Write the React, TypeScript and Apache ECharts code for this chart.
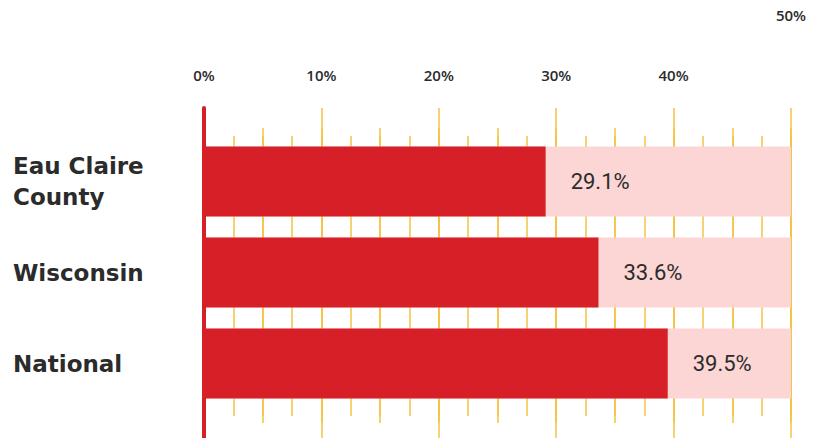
import React, { useEffect, useRef } from "react";
import * as echarts from "echarts";

const categories = ["Eau Claire\nCounty", "Wisconsin", "National"];
const values = [29.1, 33.6, 39.5];
const axisMax = 50;

const RED = "#d61f27";
const PINK = "#fbd6d4";
const GOLD = "#f5c244";
const TEXT = "#2b2b2b";

export default function App() {
  const ref = useRef<HTMLDivElement>(null);
  useEffect(() => {
    const chart = echarts.init(ref.current!, null, { renderer: "svg" });
    const hiddenY = (gi: number, extra: any = {}) => ({
      type: "value",
      gridIndex: gi,
      show: true,
      axisLabel: { show: false },
      axisTick: { show: false },
      splitLine: { show: false },
      axisLine: { show: false },
      ...extra,
    });
    const lineX = (gi: number, interval: number) => ({
      type: "value",
      gridIndex: gi,
      min: 0,
      max: axisMax,
      interval,
      axisLabel: { show: false },
      axisTick: { show: false },
      axisLine: { show: false },
      splitLine: { show: true, lineStyle: { color: GOLD, width: 1.5 } },
    });
    chart.setOption({
      animation: false,
      grid: [
        { left: 204, right: 33, top: 136, bottom: 29 },
        { left: 204, right: 33, top: 108, bottom: 0 },
        { left: 204, right: 33, top: 128, bottom: 15 },
        { left: 204, right: 33, top: 136, bottom: 22 },
      ],
      xAxis: [
        {
          type: "value",
          gridIndex: 0,
          position: "top",
          min: 0,
          max: axisMax,
          interval: 10,
          axisLine: { show: false },
          axisTick: { show: false },
          splitLine: { show: false },
          axisLabel: {
            margin: 54,
            formatter: (v: number) => (v === 50 ? "{h|" + v + "%}" : "{n|" + v + "%}"),
            rich: {
              n: { fontFamily: "Open Sans", fontWeight: 600, fontSize: 15, color: TEXT },
              h: { fontFamily: "Open Sans", fontWeight: 600, fontSize: 15, color: TEXT, padding: [0, 0, 60, 0] },
            },
          },
        },
        lineX(1, 10),
        lineX(2, 5),
        lineX(3, 2.5),
      ],
      yAxis: [
        {
          type: "category",
          gridIndex: 0,
          data: categories,
          inverse: true,
          axisLine: { show: false },
          axisTick: { show: false },
          axisLabel: {
            align: "left",
            margin: 191,
            fontFamily: "DejaVu Sans",
            fontWeight: 700,
            fontSize: 23,
            lineHeight: 31,
            color: TEXT,
          },
        },
        hiddenY(1, {
          z: 10,
          axisLine: { show: true, lineStyle: { color: RED, width: 4 } },
        }),
        hiddenY(2),
        hiddenY(3),
      ],
      series: [
        {
          type: "bar",
          xAxisIndex: 0,
          yAxisIndex: 0,
          data: values,
          barWidth: 70,
          z: 3,
          itemStyle: { color: RED },
          showBackground: true,
          backgroundStyle: { color: PINK },
          label: {
            show: true,
            position: "right",
            distance: 25,
            formatter: (p: any) => p.value.toFixed(1) + "%",
            fontFamily: "Roboto",
            fontWeight: 400,
            fontSize: 22,
            color: TEXT,
          },
        },
      ],
    });
    return () => chart.dispose();
  }, []);
  return <div ref={ref} style={{ width: 824, height: 438, position: "absolute", left: 0, top: 0 }} />;
}
